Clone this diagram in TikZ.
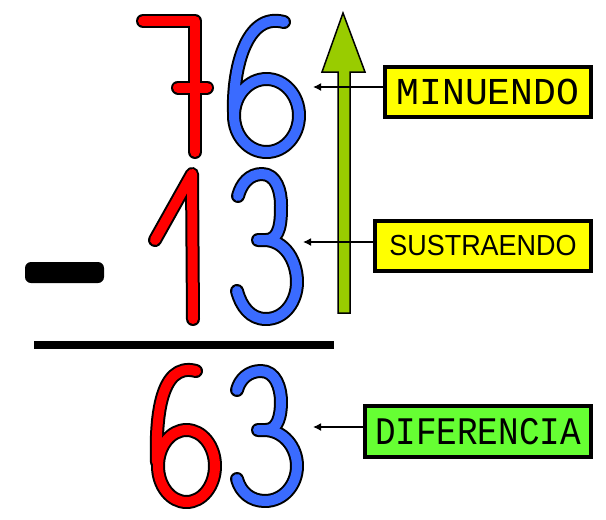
\documentclass[tikz,border=0pt]{standalone}
\usepackage{fontspec}
\usepackage{graphicx}
\usetikzlibrary{arrows.meta}
\newfontfamily\monof{Liberation Mono}
\newfontfamily\sansf{Liberation Sans}
\definecolor{dred}{HTML}{FF0000}
\definecolor{dblue}{HTML}{3A6BFF}
\definecolor{agreen}{HTML}{99CC00}
\definecolor{bgreen}{HTML}{66FF33}
\definecolor{byellow}{HTML}{FFFF00}
\tikzset{
  digit/.style={line width=10pt, line cap=round, line join=round,
    preaction={draw=black, line width=14pt, line cap=round, line join=round}},
  rdigit/.style={digit, draw=dred},
  bdigit/.style={digit, draw=dblue},
  lbl/.style={draw=black, line width=4pt, inner sep=0pt, align=center},
  arr/.style={draw=black, line width=1.5pt, -{Latex[length=8pt,width=8pt]}}
}
\begin{document}
\begin{tikzpicture}[x=1pt,y=-1pt]
\useasboundingbox (0,0) rectangle (606,520);
% ---- 76 ----
\draw[rdigit] (143,21) -- (195,21) -- (195,152) (178,87.5) -- (207,87.5);
\draw[bdigit] (284,22) to[out=165,in=92] (234,112)
  (266.5,115.5) ellipse [x radius=32.5pt, y radius=36.5pt];
% ---- minus ----
\fill[black, rounded corners=6pt] (25,262) rectangle (104,283);
% ---- 13 ----
\draw[rdigit] (155,240) -- (192,174) -- (193,319);
\draw[bdigit] (238,196) to[out=75,in=180] (262,174) to[out=0,in=90] (281,205)
  to[out=-90,in=0] (266,240) -- (258,240)
  (264,240) to[out=0,in=90] (297,282) to[out=-90,in=0] (266,319)
  to[out=180,in=-75] (237,291);
% ---- rule ----
\fill[black] (34,341) rectangle (334,349);
% ---- 63 ----
\draw[rdigit] (196,371) to[out=165,in=92] (157,462)
  (186.5,466) ellipse [x radius=28.5pt, y radius=36pt];
\draw[bdigit] (237,390) to[out=75,in=180] (261,371) to[out=0,in=90] (281,402)
  to[out=-90,in=0] (266,430) -- (258,430)
  (264,430) to[out=0,in=90] (297,466) to[out=-90,in=0] (265,501)
  to[out=180,in=-75] (237,479);
% ---- green arrow ----
\draw[fill=agreen, draw=black, line width=1.5pt, line join=miter]
  (338,313) -- (338,72) -- (322,72) -- (343,13) -- (365,72) -- (350,72) -- (350,313) -- cycle;
% ---- labels ----
\node[lbl, fill=byellow, minimum width=206pt, minimum height=50pt] (minu) at (488,91.5)
  {\monof\fontsize{38}{38}\selectfont MINUENDO};
\node[lbl, fill=byellow, minimum width=216pt, minimum height=50pt] (sust) at (483,246)
  {\scalebox{0.93}[1]{\sansf\fontsize{29}{29}\selectfont SUSTRAENDO}};
\node[lbl, fill=bgreen, minimum width=226pt, minimum height=51pt] (dife) at (478,431.5)
  {\scalebox{0.88}[1]{\monof\fontsize{39}{39}\selectfont DIFERENCIA}};
% ---- pointers ----
\coordinate (tm) at (313,87);
\coordinate (ts) at (303,242);
\coordinate (td) at (313,427);
\draw[arr] (minu.west |- tm) -- (tm);
\draw[arr] (sust.west |- ts) -- (ts);
\draw[arr] (dife.west |- td) -- (td);
\end{tikzpicture}
\end{document}
